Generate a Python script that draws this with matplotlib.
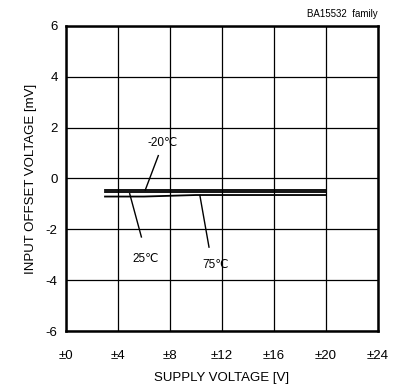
import matplotlib
matplotlib.use("Agg")
import matplotlib.pyplot as plt

plt.rcParams['font.family'] = ['Liberation Sans', 'DejaVu Sans']
plt.rcParams['axes.unicode_minus'] = False

# supply voltage (±V) and offset voltage (mV) for each temperature
vs = [3, 4, 6, 8, 10, 12, 16, 20]
vio_m20 = [-0.45, -0.45, -0.45, -0.45, -0.45, -0.45, -0.45, -0.45]
vio_25 = [-0.55, -0.55, -0.55, -0.55, -0.55, -0.55, -0.55, -0.55]
vio_75 = [-0.71, -0.71, -0.71, -0.68, -0.65, -0.65, -0.65, -0.65]

xticks = [0, 4, 8, 12, 16, 20, 24]
xticklabels = ['±0', '±4', '±8', '±12', '±16', '±20', '±24']
yticks = [-6, -4, -2, 0, 2, 4, 6]

fig = plt.figure(figsize=(4.03, 3.85), dpi=100)
ax = fig.add_axes([66/403, 1-331/385, 312/403, 305/385])

for v in (vio_m20, vio_25, vio_75):
    ax.plot(vs, v, color='black', lw=1.3)

ax.set_xlim(0, 24)
ax.set_ylim(-6, 6)
ax.set_xticks(xticks)
ax.set_xticklabels(xticklabels)
ax.set_yticks(yticks)
ax.grid(True, color='black', lw=0.9)
ax.tick_params(length=0, labelsize=9.5, pad=6)
ax.tick_params(axis='x', pad=14)
for s in ax.spines.values():
    s.set_linewidth(1.8)

ax.set_xlabel('SUPPLY VOLTAGE [V]', fontsize=9.5, labelpad=7)
ax.set_ylabel('INPUT OFFSET VOLTAGE [mV]', fontsize=9.5, labelpad=6)

# callouts
ax.plot([7.1, 6.1], [0.9, -0.45], color='black', lw=1)
ax.text(7.4, 1.38, '-20℃', ha='center', va='center', fontsize=8.5)
ax.plot([4.9, 5.8], [-0.6, -2.3], color='black', lw=1)
ax.text(6.1, -3.16, '25℃', ha='center', va='center', fontsize=8.5)
ax.plot([10.3, 11.0], [-0.67, -2.7], color='black', lw=1)
ax.text(11.5, -3.4, '75℃', ha='center', va='center', fontsize=8.5)

fig.text(378/403, 1-14/385, 'BA15532  family', ha='right', va='center', fontsize=7)

fig.savefig('out.png', dpi=100)
